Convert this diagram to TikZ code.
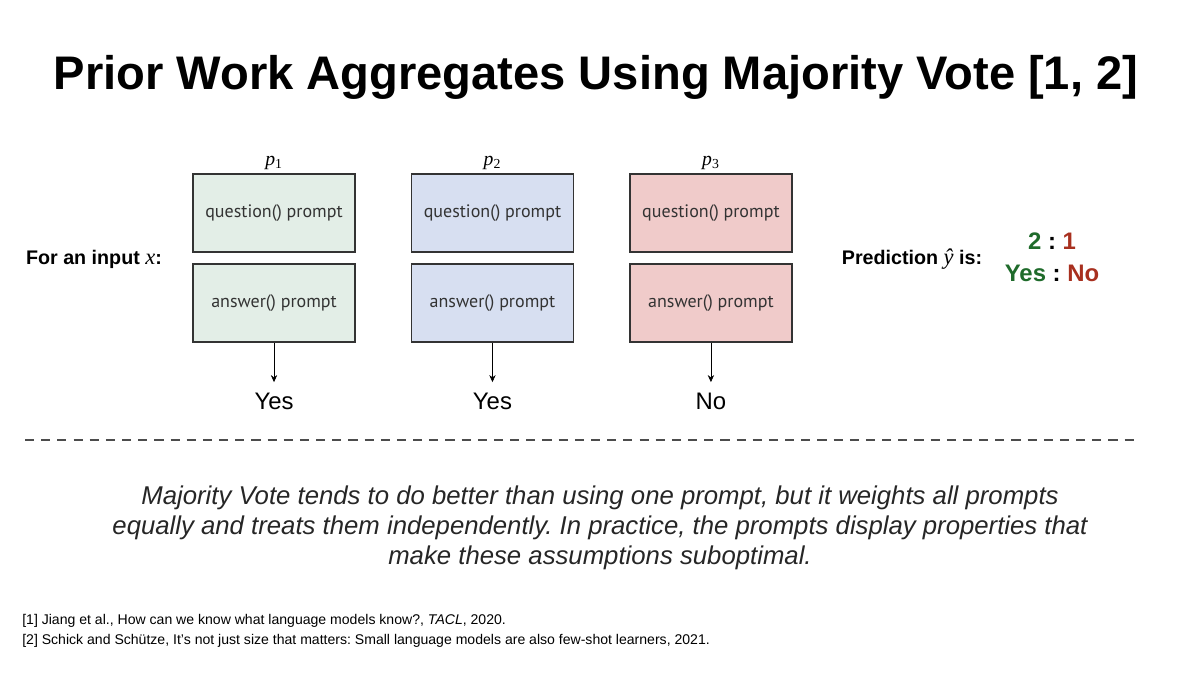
\documentclass[tikz,border=0pt]{standalone}
\usepackage{fontspec}
\setmainfont{Liberation Sans}
\newfontfamily\promptfont{PT Sans}
\newfontfamily\serifit{Liberation Serif}
\usetikzlibrary{positioning,arrows.meta}
\frenchspacing

\definecolor{greenbox}{HTML}{E3EEE7}
\definecolor{bluebox}{HTML}{D7DFF1}
\definecolor{redbox}{HTML}{F0CBCA}
\definecolor{yesgreen}{HTML}{1F6B2B}
\definecolor{nored}{HTML}{A8301F}

\begin{document}
\begin{tikzpicture}[x=0.025cm, y=-0.025cm, node distance=5.46cm, auto,
  prompt/.style={draw=black!80, line width=1.2pt, rectangle, minimum width=4.05cm, minimum height=1.95cm, text=black!80, font=\promptfont\fontsize{12.8}{15}\selectfont},
  plabel/.style={font=\serifit\fontsize{14}{16}\selectfont, inner sep=1pt},
  answer/.style={font=\fontsize{17}{20}\selectfont},
  vote/.style={-{Stealth[length=5pt, width=4.5pt]}, thin, shorten >=4pt}]
\useasboundingbox (0,0) rectangle (1200,675);

\node[font=\fontsize{33.5}{40}\selectfont\bfseries] (title) at (596,77) {Prior Work Aggregates Using Majority Vote [1, 2]};

% prompt pairs
\node[prompt, fill=greenbox] (q1) at (274,213) {question() prompt};
\node[prompt, fill=bluebox, right of=q1] (q2) {question() prompt};
\node[prompt, fill=redbox, right of=q2] (q3) {question() prompt};
\node[prompt, fill=greenbox, below of=q1, node distance=2.25cm] (a1) {answer() prompt};
\node[prompt, fill=bluebox, below of=q2, node distance=2.25cm] (a2) {answer() prompt};
\node[prompt, fill=redbox, below of=q3, node distance=2.25cm] (a3) {answer() prompt};

\node[plabel, above=0.05cm of q1] (p1) {\textit{p}\textsubscript{1}};
\node[plabel, above=0.05cm of q2] (p2) {\textit{p}\textsubscript{2}};
\node[plabel, above=0.05cm of q3] (p3) {\textit{p}\textsubscript{3}};

\node[answer, below of=a1, node distance=2.45cm] (y1) {Yes};
\node[answer, below of=a2, node distance=2.45cm] (y2) {Yes};
\node[answer, below of=a3, node distance=2.45cm] (y3) {No};

\draw[vote] (a1) -- (y1);
\draw[vote] (a2) -- (y2);
\draw[vote] (a3) -- (y3);

\node[font=\fontsize{14}{16}\selectfont\bfseries] (input) at (94,259) {For an input {\serifit\mdseries\itshape\fontsize{16}{16}\selectfont x}:};
\node[font=\fontsize{14}{16}\selectfont\bfseries] (pred) at (912,259) {Prediction {\serifit\mdseries\itshape\fontsize{16}{16}\selectfont ŷ} is:};
\node[align=center, font=\fontsize{17}{22.7}\selectfont\bfseries] (count) at (1052,257) {\textcolor{yesgreen}{2} : \textcolor{nored}{1}\\\textcolor{yesgreen}{Yes} : \textcolor{nored}{No}};

% separator
\coordinate (dl) at (25,440);
\coordinate (dr) at (1140,440);
\draw[dash pattern=on 6.5pt off 5pt, line width=1pt, black!70] (dl) -- (dr);

\node[align=center, font=\fontsize{18.3}{21.3}\selectfont\itshape, text=black!85] (note) at (600,528) {Majority Vote tends to do better than using one prompt, but it weights all prompts\\equally and treats them independently. In practice, the prompts display properties that\\make these assumptions suboptimal.};

\node[anchor=north west, align=left, font=\fontsize{10}{14.2}\selectfont, inner sep=0pt] (refs) at (22,614) {[1] Jiang et al., How can we know what language models know?, \textit{TACL}, 2020.\\{}[2] Schick and Schütze, It’s not just size that matters: Small language models are also few-shot learners, 2021.};

\end{tikzpicture}
\end{document}
